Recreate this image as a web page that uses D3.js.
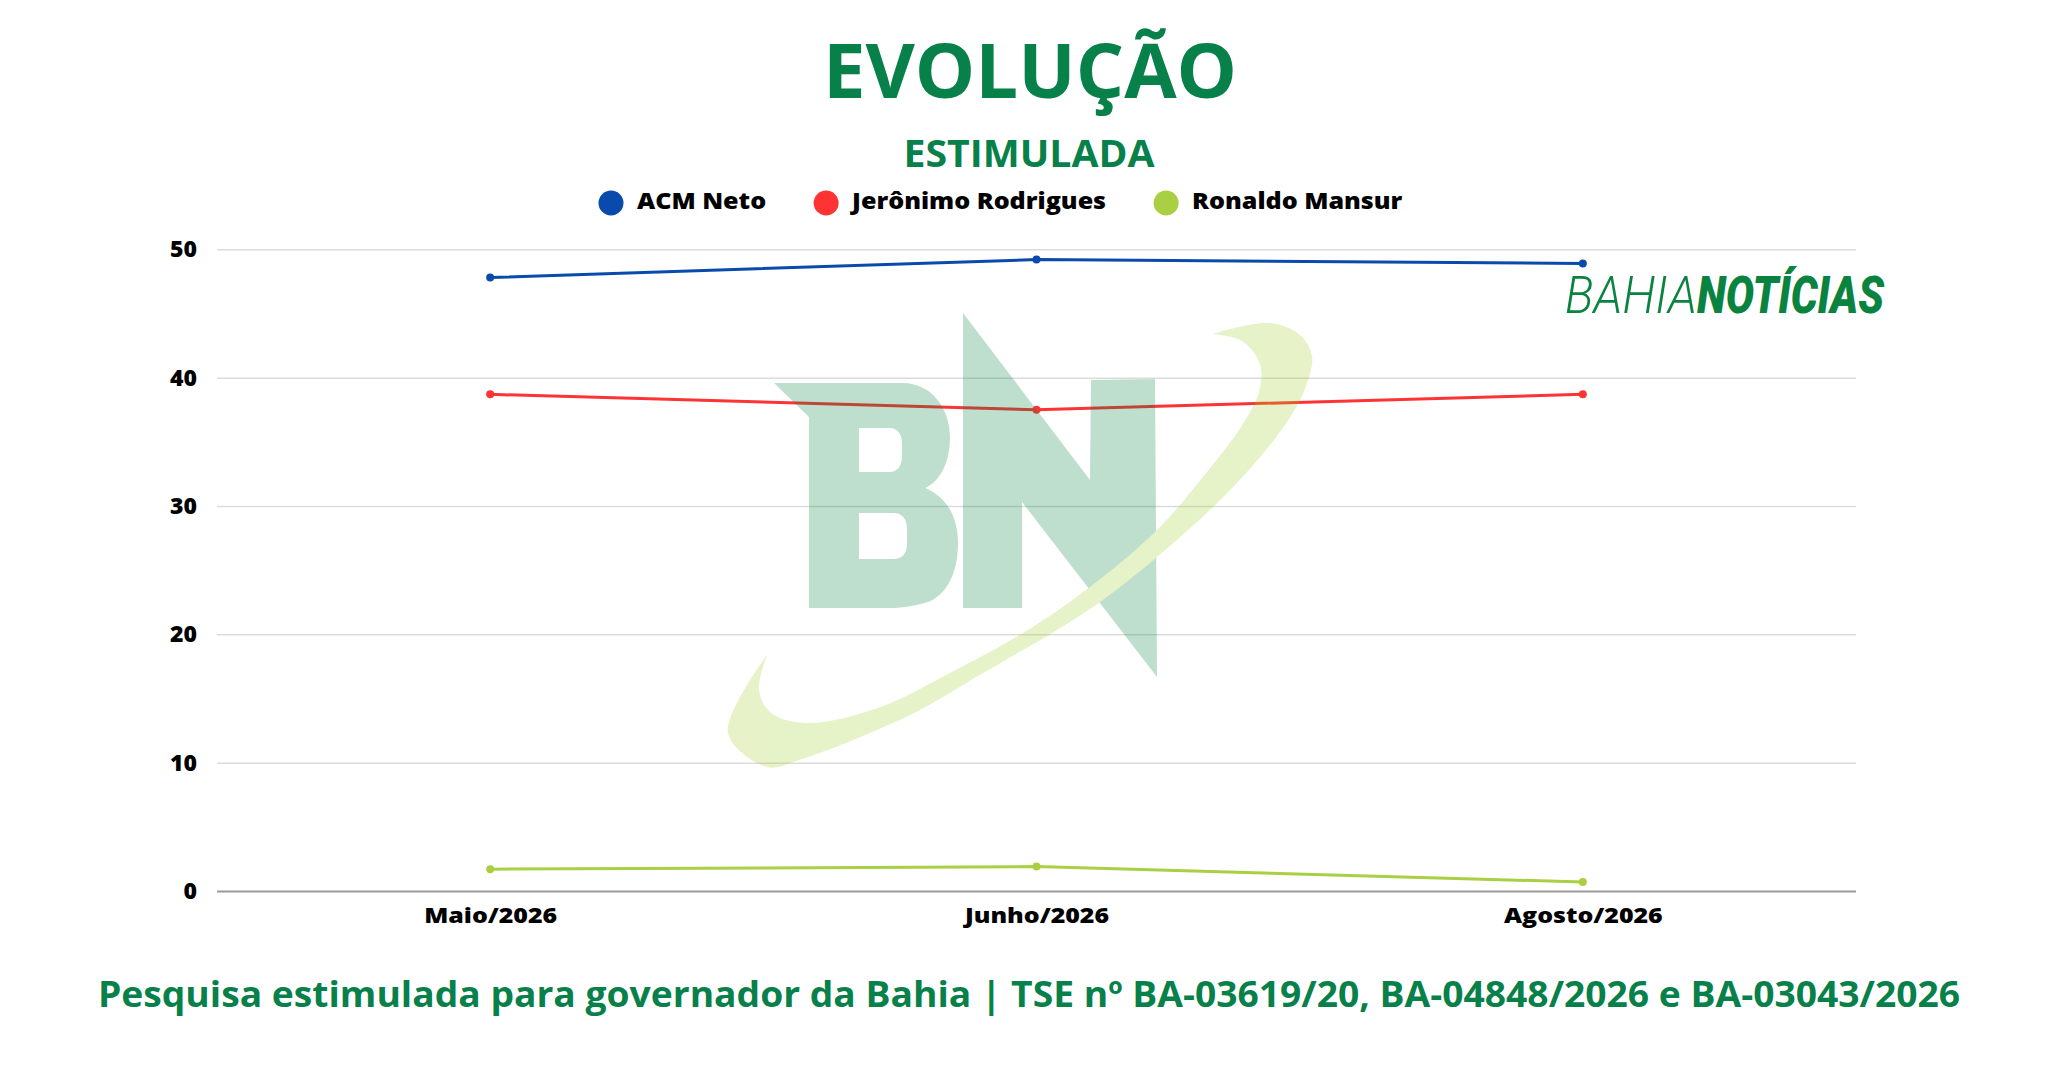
<!DOCTYPE html>
<html>
<head>
<meta charset="utf-8">
<script src="https://cdn.jsdelivr.net/npm/d3@7/dist/d3.min.js"></script>
<style>
body{margin:0;background:#fff;}
text{font-family:"Open Sans",sans-serif;}
</style>
</head>
<body>
<script>
// chart values
var months = ["Maio/2026", "Junho/2026", "Agosto/2026"];
var acmNeto = [47.8, 49.2, 48.9];
var jeronimo = [38.7, 37.5, 38.7];
var ronaldo = [1.7, 1.9, 0.7];
var seriesNames = ["ACM Neto", "Jerônimo Rodrigues", "Ronaldo Mansur"];
var seriesColors = ["#0a4aad", "#fe3434", "#a9cf42"];
var yTicks = [0, 10, 20, 30, 40, 50];

var titleText = "EVOLUÇÃO";
var subtitleText = "ESTIMULADA";
var footerText = "Pesquisa estimulada para governador da Bahia | TSE nº BA-03619/20, BA-04848/2026 e BA-03043/2026";

var W = 2057, H = 1080;
var green = "#07804a";
var WIDE = 1.16;   // x labels use a wider face than Open Sans
var LEG_WIDE = 1.14;

var svg = d3.select("body").append("svg")
    .attr("width", W)
    .attr("height", H);

var x = d3.scalePoint().domain(months).range([217, 1856]).padding(0.5);
var y = d3.scaleLinear().domain([0, 50]).range([891, 249.3]);

// gridlines + y labels
var yAxis = d3.axisLeft(y).tickValues(yTicks).tickSize(-(1856 - 217)).tickPadding(20);
var gy = svg.append("g").attr("transform", "translate(217,0)").call(yAxis);
gy.select(".domain").remove();
gy.selectAll(".tick line")
    .attr("stroke", function(d){ return d === 0 ? "#9a9a9a" : "#dcdcdc"; })
    .attr("stroke-width", function(d){ return d === 0 ? 2 : 1.5; });
gy.selectAll(".tick text")
    .attr("fill", "#000")
    .style("font-family", "'Open Sans', sans-serif")
    .style("font-size", "23px")
    .style("font-weight", 800);

// x labels
var xAxis = d3.axisBottom(x).tickSize(0).tickPadding(0);
var gx = svg.append("g").attr("transform", "translate(0,891)").call(xAxis);
gx.select(".domain").remove();
gx.selectAll(".tick text")
    .attr("dy", 0).attr("y", 0)
    .attr("transform", "translate(0,32) scale(" + WIDE + ",1)")
    .attr("fill", "#000")
    .style("font-family", "'Open Sans', sans-serif")
    .style("font-size", "21.5px")
    .style("font-weight", 800);

// series lines
var allSeries = [acmNeto, jeronimo, ronaldo];
var line = d3.line()
    .x(function(d, i){ return x(months[i]); })
    .y(function(d){ return y(d); });

allSeries.forEach(function(vals, s){
    svg.append("path")
        .attr("d", line(vals))
        .attr("fill", "none")
        .attr("stroke", seriesColors[s])
        .attr("stroke-width", 3)
        .attr("stroke-linejoin", "round");
    svg.selectAll(".pt" + s).data(vals).enter().append("circle")
        .attr("class", "pt" + s)
        .attr("cx", function(d, i){ return x(months[i]); })
        .attr("cy", function(d){ return y(d); })
        .attr("r", 4)
        .attr("fill", seriesColors[s]);
});

// watermark (BN logo, faded)
var wm = svg.append("g").attr("opacity", 0.25);
wm.append("path")
    .attr("fill", "#00803f")
    .attr("fill-rule", "evenodd")
    .attr("d", "M774,383 L902,383 C933,383 950,410 950,437 C950,462 940,482 925,488 " +
        "C945,496 958,515 958,543 C958,575 945,596 928,602 Q912,607 894,608 L809,608 L809,417 Z " +
        "M859,428 L889,428 Q902,428 902,445 L902,455 Q902,472 889,472 L859,472 Z " +
        "M859,513 L893,513 Q907,513 907,530 L907,543 Q907,559 893,559 L859,559 Z");
wm.append("path")
    .attr("fill", "#00803f")
    .attr("d", "M963,313 L1090,480 L1091,380 L1155,379 L1157,677 L1022,502 L1022,608 L963,608 Z");

var swOuter = [[1212,334],[1269,323],[1300,335],[1312,356],[1306,386],[1287,422],[1233,487],
    [1157,557],[1100,602],[1057,630],[983,673],[910,715],[799,760],[767,767],[728,733],[767,655]];
var swInner = [[767,655],[759,690],[771,713],[807,723],[878,708],[950,673],[1023,633],[1090,587],
    [1157,530],[1207,472],[1243,424],[1259,392],[1260,364],[1242,341],[1212,334]];
var sw = d3.line().curve(d3.curveCatmullRom);
wm.append("path")
    .attr("fill", "#a0cd28")
    .attr("d", sw(swOuter) + sw(swInner).replace(/^M/, "L") + "Z");

// BahiaNotícias logo
svg.append("text")
    .attr("x", 1565).attr("y", 313)
    .attr("textLength", 132).attr("lengthAdjust", "spacingAndGlyphs")
    .style("font-family", "Roboto, sans-serif")
    .style("font-style", "italic").style("font-weight", 300)
    .style("font-size", "52px")
    .attr("fill", "#0b8340")
    .text("BAHIA");
svg.append("text")
    .attr("x", 1697).attr("y", 313)
    .attr("textLength", 187).attr("lengthAdjust", "spacingAndGlyphs")
    .style("font-family", "Roboto, sans-serif")
    .style("font-style", "italic").style("font-weight", 900)
    .style("font-size", "52px")
    .attr("fill", "#0b8340")
    .text("NOTÍCIAS");

// titles
svg.append("text")
    .attr("x", 1030).attr("y", 98)
    .attr("text-anchor", "middle")
    .style("font-size", "76px").style("font-weight", 700)
    .attr("fill", green)
    .text(titleText);
svg.append("text")
    .attr("transform", "translate(1029,167) scale(1.06,1)")
    .attr("text-anchor", "middle")
    .style("font-size", "37px").style("font-weight", 700)
    .attr("fill", green)
    .text(subtitleText);

// legend
var lx = 611;
seriesNames.forEach(function(name, s){
    svg.append("circle")
        .attr("cx", lx).attr("cy", 203).attr("r", 12.5)
        .attr("fill", seriesColors[s]);
    var t = svg.append("text")
        .attr("transform", "translate(" + (lx + 26) + ",208.5) scale(" + LEG_WIDE + ",1)")
        .style("font-size", "22px").style("font-weight", 800)
        .attr("fill", "#000")
        .text(name);
    lx = lx + 26 + t.node().getComputedTextLength() * LEG_WIDE + 60;
});

// footer
svg.append("text")
    .attr("transform", "translate(1029,1007) scale(1.02,1)")
    .attr("text-anchor", "middle")
    .style("font-size", "36.5px").style("font-weight", 700)
    .attr("fill", green)
    .text(footerText);
</script>
</body>
</html>
